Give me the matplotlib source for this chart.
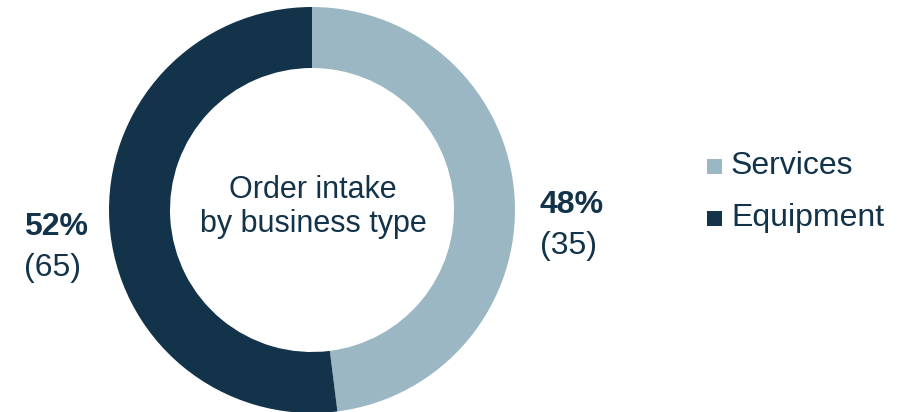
import matplotlib.pyplot as plt

# donut data
categories = ["Services", "Equipment"]
shares = [48, 52]
counts = [35, 65]
colors = ["#9bb7c4", "#123349"]
text_color = "#123349"

plt.rcParams['font.family'] = ['Liberation Sans', 'DejaVu Sans']

fig = plt.figure(figsize=(9.02, 4.12), dpi=100)
ax = fig.add_axes([0, 0, 1, 1])

# pie in pixel coordinates (y axis inverted -> clockwise flag flips)
ax.pie(shares, colors=colors, center=(312, 210), radius=203,
       startangle=-90, counterclock=True,
       wedgeprops=dict(width=61, linewidth=0), frame=True)
ax.set_xlim(0, 902)
ax.set_ylim(412, 0)
ax.set_aspect('equal')
ax.axis('off')

ax.text(313, 207, "Order intake\nby business type", ha='center', va='center',
        fontsize=22, color=text_color, linespacing=1.2)

# value labels (left aligned pairs)
ax.text(24, 227, f"{shares[1]}%", ha='left', va='center', fontsize=23,
        fontweight='bold', color=text_color)
ax.text(24, 268, f"({counts[1]})", ha='left', va='center', fontsize=23,
        color=text_color)
ax.text(540, 205, f"{shares[0]}%", ha='left', va='center', fontsize=23,
        fontweight='bold', color=text_color)
ax.text(540, 246, f"({counts[0]})", ha='left', va='center', fontsize=23,
        color=text_color)

# legend
for i, (cat, col) in enumerate(zip(categories, colors)):
    y = 166 + i * 52
    ax.add_patch(plt.Rectangle((707, y - 7.5), 15, 15, color=col, lw=0))
    ax.text(731, y, cat, ha='left', va='center', fontsize=23, color=text_color)

fig.savefig('out.png', dpi=100)
